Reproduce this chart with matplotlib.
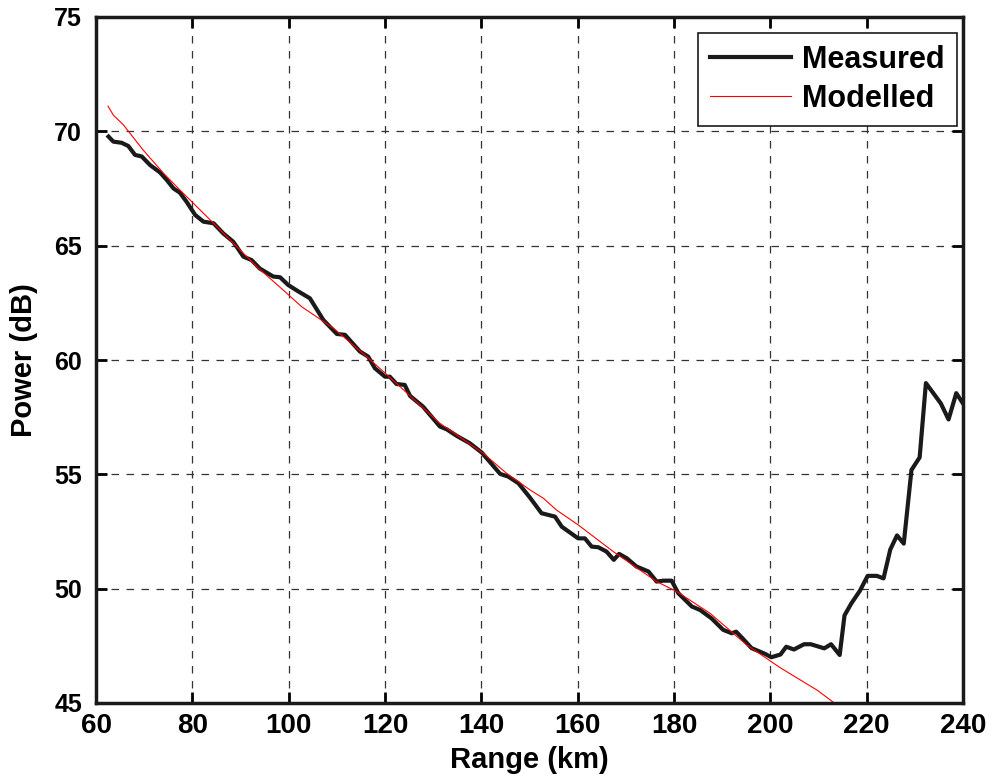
import matplotlib
matplotlib.use("Agg")
import matplotlib.pyplot as plt

plt.rcParams['font.family'] = ['Liberation Sans', 'DejaVu Sans']
plt.rcParams['font.weight'] = 'bold'

# measured power vs range
meas_range = [62.6, 63.6, 65.3, 66.7, 68.1, 69.5, 71.2, 73.3, 74.7, 76.1, 77.4, 78.8,
              80.6, 82.3, 84.4, 86.4, 88.5, 90.6, 92.3, 94.0, 96.8, 98.2, 99.9, 102.0,
              104.4, 107.2, 110.0, 111.7, 114.8, 116.5, 117.9, 120.0, 121.0, 122.4,
              124.1, 125.2, 127.9, 131.4, 132.8, 134.9, 137.6, 140.1, 143.9, 145.6,
              147.7, 150.1, 152.5, 155.3, 156.7, 160.1, 161.5, 162.9, 164.3, 166.0,
              167.5, 168.6, 170.2, 172.2, 174.7, 176.4, 177.8, 179.5, 180.9, 183.7,
              185.4, 187.8, 190.2, 192.0, 192.9, 194.4, 196.1, 198.9, 200.2, 202.1,
              203.3, 204.9, 207.0, 208.4, 211.2, 212.6, 214.4, 215.4, 216.8, 218.6,
              220.2, 222.1, 223.5, 224.9, 226.3, 227.7, 229.3, 231.0, 232.3, 235.4,
              237.0, 238.6, 240.3]
meas_power = [69.77, 69.55, 69.5, 69.36, 68.97, 68.9, 68.53, 68.2, 67.87, 67.5, 67.32, 66.92,
              66.34, 66.05, 65.98, 65.54, 65.17, 64.52, 64.37, 64.0, 63.65, 63.62, 63.28, 63.0,
              62.7, 61.75, 61.14, 61.1, 60.37, 60.15, 59.64, 59.27, 59.27, 58.95,
              58.91, 58.43, 57.96, 57.09, 56.97, 56.68, 56.36, 55.95, 55.02, 54.9,
              54.61, 53.98, 53.3, 53.15, 52.71, 52.2, 52.2, 51.84, 51.81, 51.62,
              51.26, 51.52, 51.33, 50.97, 50.75, 50.31, 50.35, 50.35, 49.8, 49.22,
              49.07, 48.7, 48.2, 48.05, 48.12, 47.79, 47.4, 47.15, 47.0, 47.12,
              47.46, 47.34, 47.57, 47.57, 47.39, 47.57, 47.1, 48.83, 49.35, 49.91,
              50.56, 50.56, 50.45, 51.71, 52.33, 51.97, 55.19, 55.74, 58.99, 58.1,
              57.4, 58.55, 58.0]

# modelled power
model_range = [62.5, 63.6, 65.7, 69.8, 74.0, 77.4, 79.9, 84.4, 89.2, 93.4, 99.6, 102.7,
               109.3, 116.2, 123.1, 131.4, 140.4, 145.2, 150.1, 152.9, 155.6, 160.1,
               167.4, 176.4, 180.6, 187.5, 195.1, 202.0, 209.8, 213.6, 215.0]
model_power = [71.1, 70.71, 70.28, 69.18, 68.17, 67.44, 66.92, 65.98, 64.96, 64.08, 62.92, 62.33,
               61.39, 60.15, 58.84, 57.23, 55.92, 55.05, 54.32, 53.95, 53.44, 52.79,
               51.62, 50.31, 49.87, 48.92, 47.54, 46.55, 45.55, 44.95, 44.75]

fig = plt.figure(figsize=(9.93, 7.80), dpi=100)
ax = fig.add_axes([96/993, 1-703/780, (963-96)/993, (703-17)/780])

ax.plot(meas_range, meas_power, color='#1a1a1a', linewidth=3, label='Measured')
ax.plot(model_range, model_power, color='#ff0000', linewidth=0.8, label='Modelled')

ax.set_xlim(60, 240)
ax.set_ylim(45, 75)
ax.set_xticks(range(60, 241, 20))
ax.set_yticks(range(45, 76, 5))
ax.grid(True, color='#333333', linestyle=(0, (6, 6)), linewidth=0.9)
ax.tick_params(direction='in', length=8, width=2, top=True, right=True)
ax.tick_params(axis='x', pad=7)
ax.tick_params(axis='y', pad=10)
for lab in ax.get_xticklabels():
    lab.set_fontsize(20)
    lab.set_fontweight('bold')
for lab in ax.get_yticklabels():
    lab.set_fontsize(18)
    lab.set_fontweight('bold')
for s in ax.spines.values():
    s.set_linewidth(2.5)
    s.set_color('#1a1a1a')

ax.set_xlabel('Range (km)', fontsize=21, fontweight='bold', labelpad=5)
ax.set_ylabel('Power (dB)', fontsize=21, fontweight='bold', labelpad=12)

leg = ax.legend(loc='upper right', bbox_to_anchor=(0.993, 0.977), borderaxespad=0,
                handlelength=2.65, labelspacing=0.3, borderpad=0.4, handletextpad=0.35,
                fancybox=False, framealpha=1, edgecolor='#1a1a1a',
                prop={'weight': 'bold', 'size': 22})
leg.get_frame().set_linewidth(1.2)

fig.savefig('out.png', dpi=100)
